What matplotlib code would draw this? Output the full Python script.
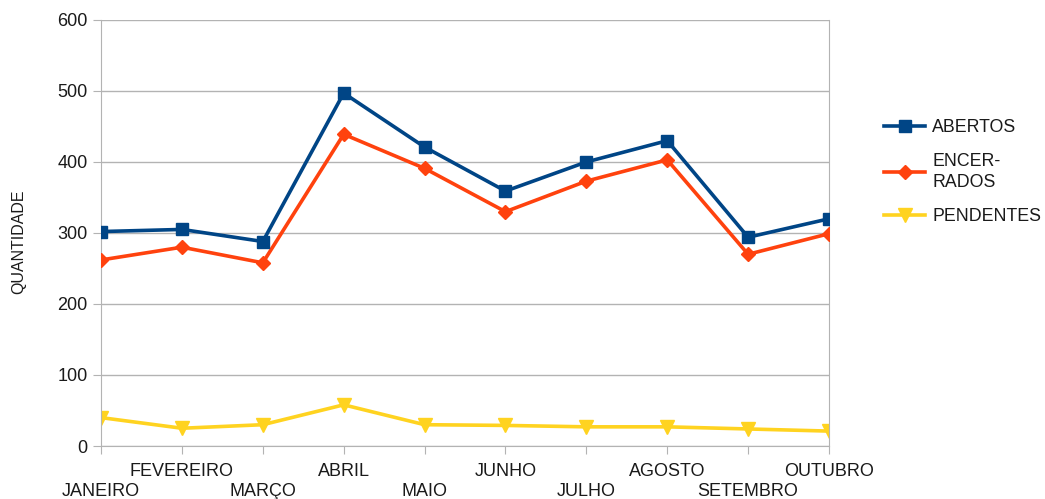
import matplotlib.pyplot as plt
import numpy as np

plt.rcParams['font.family'] = ['Liberation Sans', 'DejaVu Sans']

meses = ["JANEIRO", "FEVEREIRO", "MARÇO", "ABRIL", "MAIO",
         "JUNHO", "JULHO", "AGOSTO", "SETEMBRO", "OUTUBRO"]
abertos = [302, 305, 288, 497, 421, 359, 400, 430, 294, 320]
encerrados = [262, 280, 258, 439, 391, 330, 373, 403, 270, 299]
pendentes = [40, 25, 30, 58, 30, 29, 27, 27, 24, 21]

fig = plt.figure(figsize=(10.45, 4.99), dpi=100)
ax = fig.add_axes([0.0967, 0.1062, 0.6966, 0.8538])

x = np.arange(len(meses))
ax.plot(x, abertos, color="#004586", lw=2.6, marker="s", ms=9, label="ABERTOS", zorder=4)
ax.plot(x, encerrados, color="#ff420e", lw=2.6, marker="D", ms=7, label="ENCER-\nRADOS", zorder=3)
ax.plot(x, pendentes, color="#ffd320", lw=2.6, marker="v", ms=10, label="PENDENTES", zorder=2)

ax.set_xlim(0, len(meses) - 1)
ax.set_ylim(0, 600)
ax.set_yticks(range(0, 601, 100))
ax.grid(axis="y", color="#b3b3b3", lw=1)
ax.set_axisbelow(True)
for s in ax.spines.values():
    s.set_color("#b3b3b3")
ax.spines["top"].set_visible(False)

ax.set_xticks(x)
ax.set_xticklabels([])
ax.tick_params(axis="both", color="#b3b3b3", length=6, labelsize=13, colors="#b3b3b3", labelcolor="#1a1a1a")
for i, m in enumerate(meses):
    off = -36 if i % 2 == 0 else -21.5
    ax.annotate(m, (i, 0), xycoords=("data", "axes fraction"), xytext=(0, off),
                textcoords="offset points", ha="center", va="baseline", fontsize=13,
                color="#1a1a1a", annotation_clip=False)

fig.text(0.018, 0.515, "QUANTIDADE", rotation=90, ha="center", va="center", fontsize=11.5,
         color="#1a1a1a")

leg = ax.legend(loc="center left", bbox_to_anchor=(0.831, 0.655), bbox_transform=fig.transFigure,
                frameon=False, fontsize=12.8, handlelength=2.3, labelspacing=0.95, handletextpad=0.4)
for t in leg.get_texts():
    t.set_color("#1a1a1a")
    t.set_linespacing(1.3)

fig.savefig("out.png", dpi=100)
